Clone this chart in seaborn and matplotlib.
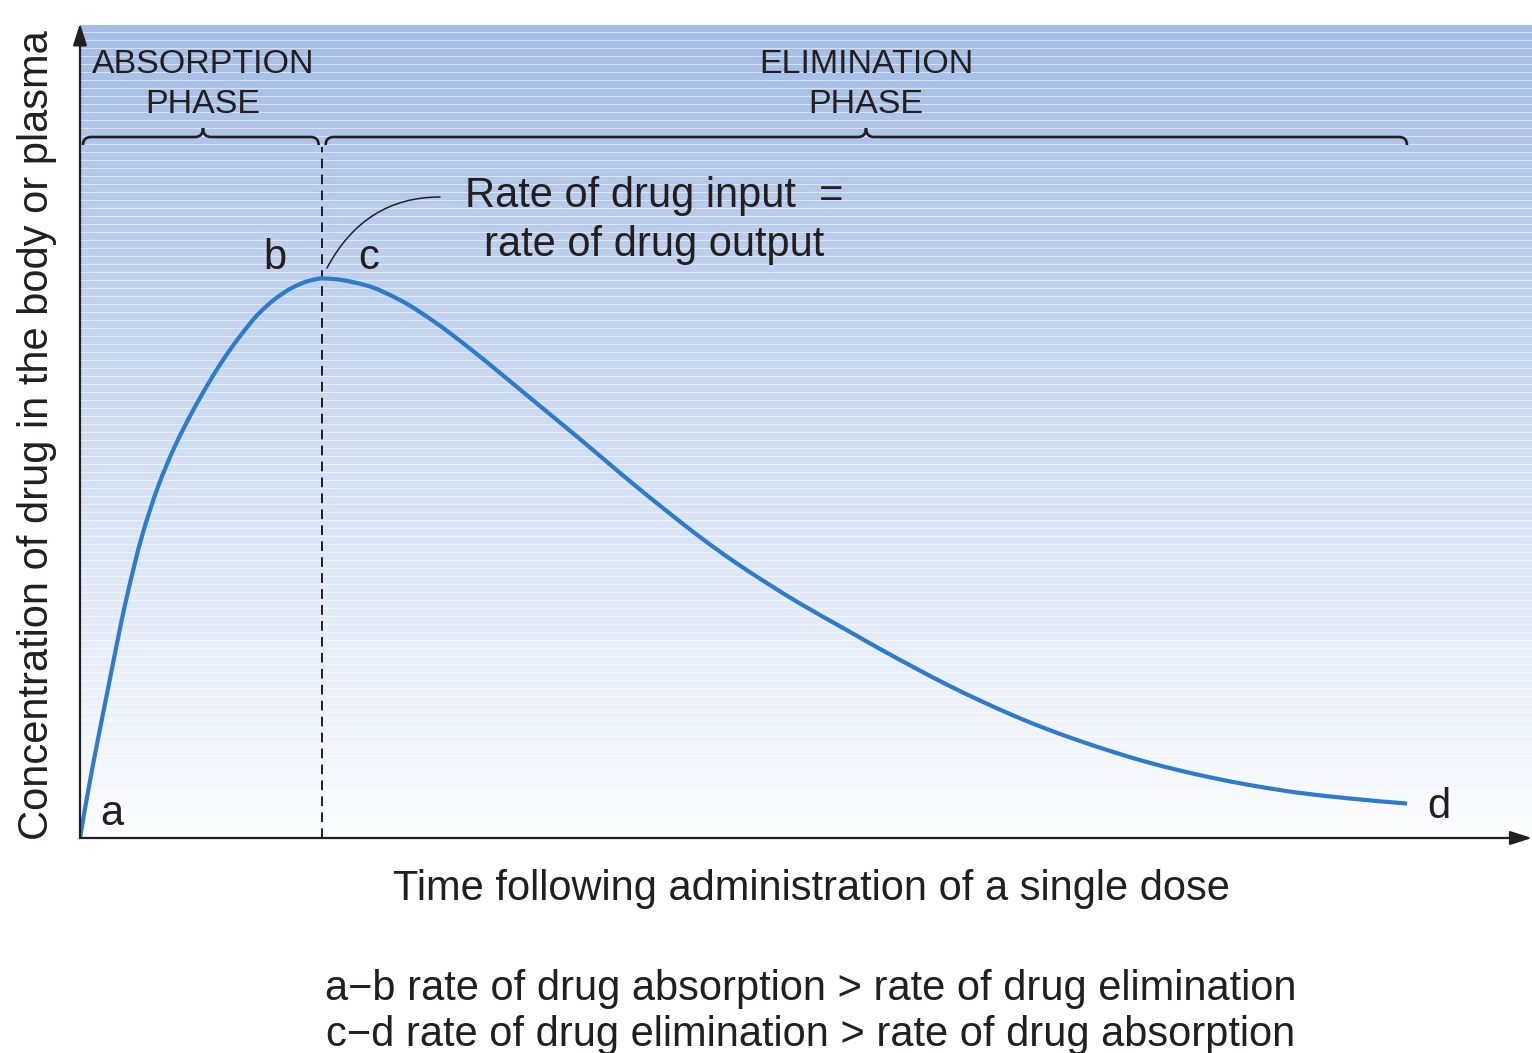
import numpy as np
import matplotlib
matplotlib.use("Agg")
import matplotlib.pyplot as plt
from matplotlib.path import Path
from matplotlib.patches import PathPatch
import matplotlib.transforms as mtransforms
import seaborn as sns

# Drug concentration after a single dose (arbitrary time units, % of axis height)
time_pts = [0.000, 0.172, 0.586, 0.931, 1.277, 1.620, 1.966, 2.311, 2.655, 3.000,
            3.346, 3.689, 4.035, 4.380, 4.724, 5.001, 5.235, 5.932, 6.621, 7.310,
            8.001, 8.690, 9.379, 10.070, 10.759, 11.448, 12.139, 12.828, 13.517,
            14.208, 14.897, 15.864, 16.553, 17.242, 17.933, 18.622, 19.311, 20.002,
            20.691, 21.380, 22.071, 22.760, 23.449, 24.140, 24.829, 25.243, 26.278,
            27.457]
conc_pts = [0.00, 5.90, 18.57, 28.66, 37.02, 43.30, 48.22, 52.28, 55.90, 59.16,
            61.99, 64.45, 66.30, 67.65, 68.51, 68.82, 68.76, 67.96, 66.17, 63.59,
            60.52, 57.20, 53.81, 50.43, 46.99, 43.54, 40.22, 37.02, 34.07,
            31.37, 28.84, 25.58, 23.25, 21.03, 18.88, 16.91, 15.07, 13.41,
            11.93, 10.58, 9.35, 8.30, 7.38, 6.58, 5.90, 5.54, 4.86,
            4.24]

peak_time = 5.0
point_labels = ["a", "b", "c", "d"]
phase_labels = [("ABSORPTION", "PHASE"), ("ELIMINATION", "PHASE")]
note_text = ["Rate of drug input  =", "rate of drug output"]
x_label = "Time following administration of a single dose"
y_label = "Concentration of drug in the body or plasma"
legend_lines = ["a\u2212b rate of drug absorption > rate of drug elimination",
                "c\u2212d rate of drug elimination > rate of drug absorption"]

sns.set_theme(style="white")
plt.rcParams["font.family"] = ["Liberation Sans", "DejaVu Sans"]

W, H = 1532, 1053
fig = plt.figure(figsize=(W / 100, H / 100), dpi=100)
ax_l, ax_b, ax_t = 80, 838, 25
ax = fig.add_axes([ax_l / W, 1 - ax_b / H, 1 - ax_l / W, (ax_b - ax_t) / H])
XMAX = (W - ax_l) / 48.33
ax.set_xlim(0, XMAX)
ax.set_ylim(0, 100)
sx = (W - ax_l) / XMAX          # pixels per x unit
sy = (ax_b - ax_t) / 100.0       # pixels per y unit
end_time = time_pts[-1]

# pixel (y down) -> figure transform for the text around the axes
pix = mtransforms.Affine2D().scale(1 / W, -1 / H).translate(0, 1) + fig.transFigure

# blue-to-white vertical gradient
top = np.array([164, 189, 230]) / 255
bot = np.array([252, 253, 255]) / 255
fr = np.linspace(0, 1, 400)[:, None]
grad = (top[None, :] * (1 - fr) + bot[None, :] * fr)[:, None, :]
ax.imshow(grad, extent=[0, XMAX, 0, 100], aspect="auto", origin="upper",
          zorder=0, interpolation="bilinear")

# fine light horizontal print lines
for yl in np.arange(100 - 7 / sy, 10, -8 / sy):
    ax.axhline(yl, color="white", lw=0.7, alpha=0.55, zorder=0.5)

for s in ax.spines.values():
    s.set_visible(False)
ax.set_xticks([])
ax.set_yticks([])
ax.grid(False)

curve_col = "#2d7bcb"
lw_curve = 3.0
# concentration curve through the measured points
sns.lineplot(x=time_pts, y=conc_pts, ax=ax, color=curve_col, linewidth=1.6,
             zorder=4, sort=False, solid_capstyle="butt", solid_joinstyle="round")


def smooth_path(xs, ys):
    """Shape-preserving cubic (PCHIP) through the points, as Bezier segments."""
    x = np.asarray(xs, float)
    y = np.asarray(ys, float)
    h = np.diff(x)
    d = np.diff(y) / h
    m = np.zeros_like(x)
    for k in range(1, len(x) - 1):
        if d[k - 1] * d[k] > 0:
            w1 = 2 * h[k] + h[k - 1]
            w2 = h[k] + 2 * h[k - 1]
            m[k] = (w1 + w2) / (w1 / d[k - 1] + w2 / d[k])
    m[0] = ((2 * h[0] + h[1]) * d[0] - h[0] * d[1]) / (h[0] + h[1])
    m[-1] = ((2 * h[-1] + h[-2]) * d[-1] - h[-1] * d[-2]) / (h[-1] + h[-2])
    verts = [(x[0], y[0])]
    codes = [Path.MOVETO]
    for k in range(len(x) - 1):
        verts += [(x[k] + h[k] / 3, y[k] + m[k] * h[k] / 3),
                  (x[k + 1] - h[k] / 3, y[k + 1] - m[k + 1] * h[k] / 3),
                  (x[k + 1], y[k + 1])]
        codes += [Path.CURVE4] * 3
    return Path(verts, codes)


ax.add_patch(PathPatch(smooth_path(time_pts, conc_pts), fill=False, ec=curve_col,
                       lw=lw_curve, zorder=4.1, capstyle="butt", joinstyle="round"))

axis_col = "#231f20"
# axes with arrow heads
ax.annotate("", xy=(0, 100.2), xytext=(0, 0), xycoords="data",
            arrowprops=dict(arrowstyle="-|>,head_length=1.1,head_width=0.35",
                            color=axis_col, lw=1.6, shrinkA=0, shrinkB=0),
            annotation_clip=False, zorder=6)
ax.annotate("", xy=(XMAX, 0), xytext=(0, 0), xycoords="data",
            arrowprops=dict(arrowstyle="-|>,head_length=1.1,head_width=0.35",
                            color=axis_col, lw=1.6, shrinkA=0, shrinkB=0),
            annotation_clip=False, zorder=6)

# boundary between the two phases
ax.plot([peak_time, peak_time], [0, 85], color=axis_col, lw=1.4,
        linestyle=(0, (5, 3.2)), zorder=3)


def brace(x0, x1, xm, y, r=8, h=9):
    """Curly brace over [x0, x1] with its tip at xm, radii given in pixels."""
    rx, ry = r / sx, r / sy
    hy = h / sy
    verts = [(x0, y - ry), (x0, y), (x0 + rx, y),
             (xm - rx, y), (xm, y), (xm, y + hy),
             (xm, y), (xm + rx, y),
             (x1 - rx, y), (x1, y), (x1, y - ry)]
    codes = [Path.MOVETO, Path.CURVE3, Path.CURVE3,
             Path.LINETO, Path.CURVE3, Path.CURVE3,
             Path.CURVE3, Path.CURVE3,
             Path.LINETO, Path.CURVE3, Path.CURVE3]
    ax.add_patch(PathPatch(Path(verts, codes), fill=False, lw=1.9,
                           ec=axis_col, zorder=5, capstyle="butt"))


brace_y = (ax_b - 137) / sy
brace(3 / sx, peak_time - 3 / sx, 123 / sx, brace_y)
brace(peak_time + 4 / sx, end_time, 786 / sx, brace_y)

fs = 30
txt = dict(color=axis_col, fontsize=fs)
cap = dict(color=axis_col, fontsize=24.5, ha="center", va="baseline")
for (l1, l2), xc in zip(phase_labels, [123 / sx, 786 / sx]):
    ax.text(xc, (ax_b - 73) / sy, l1, **cap)
    ax.text(xc, (ax_b - 113) / sy, l2, **cap)

ax.text(574 / sx, (ax_b - 207) / sy, note_text[0], ha="center", va="baseline", **txt)
ax.text(574 / sx, (ax_b - 256) / sy, note_text[1], ha="center", va="baseline", **txt)

# leader from the peak to the note
ax.annotate("", xy=(247 / sx, (ax_b - 268) / sy), xytext=(360 / sx, (ax_b - 197) / sy),
            arrowprops=dict(arrowstyle="-", color=axis_col, lw=1.1,
                            shrinkA=0, shrinkB=0,
                            connectionstyle="angle3,angleA=0,angleB=62"),
            zorder=5)

ax.text(195 / sx, (ax_b - 269) / sy, point_labels[1], ha="center", va="baseline", **txt)
ax.text(289 / sx, (ax_b - 269) / sy, point_labels[2], ha="center", va="baseline", **txt)
ax.text(32 / sx, (ax_b - 825) / sy, point_labels[0], ha="center", va="baseline", **txt)
ax.text(end_time + 32 / sx, (ax_b - 818) / sy, point_labels[3], ha="center",
        va="baseline", **txt)

fig.text(811, 900, x_label, transform=pix, ha="center", va="baseline", **txt)
fig.text(37, 435, y_label, transform=pix, ha="center", va="center",
         rotation=90, **txt)
fig.text(811, 1000, legend_lines[0], transform=pix, ha="center", va="baseline", **txt)
fig.text(811, 1046, legend_lines[1], transform=pix, ha="center", va="baseline", **txt)

fig.savefig("out.png", dpi=100, facecolor="white")
